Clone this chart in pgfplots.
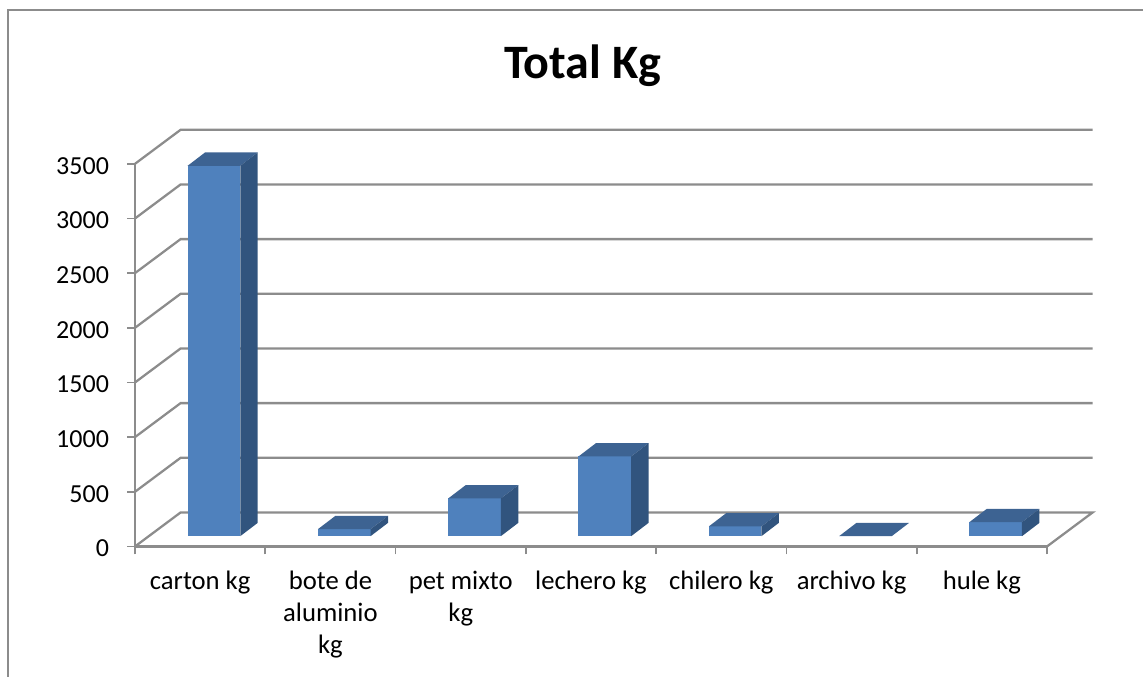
\documentclass[border=0pt]{standalone}
\usepackage{fontspec}
\setmainfont{Carlito}
\usepackage{pgfplots}
\pgfplotsset{compat=1.18}

\definecolor{frontc}{HTML}{4F81BD}
\definecolor{topc}{HTML}{3D6392}
\definecolor{sidec}{HTML}{31547E}
\definecolor{linec}{HTML}{8C8C8C}

\begin{document}
\begin{tikzpicture}
	% 1 reference pixel = 0.75pt
	\useasboundingbox (0,0) rectangle (857.25pt,507.75pt);
	\draw[linec, line width=1.5pt] (6pt,0pt) -- (6pt,500.2pt) -- (857.25pt,500.2pt);
	\begin{axis}[
		at={(101.25pt,97.9pt)}, anchor=south west,
		scale only axis,
		width=684pt, height=287pt,
		xmin=0, xmax=7,
		ymin=0, ymax=3500,
		clip=false,
		axis x line=bottom, axis y line=left,
		axis line style={-, linec, line width=1.7pt},
		tick style={linec, line width=1.3pt},
		tick align=outside,
		major tick length=6pt,
		xtick={0,...,7},
		x tick label as interval,
		xticklabels={carton kg,{bote de\\aluminio\\kg},{pet mixto\\kg},lechero kg,chilero kg,archivo kg,hule kg},
		x tick label style={align=center, font=\fontsize{20}{24}\selectfont, yshift=-9pt},
		ytick={0,500,...,3500},
		y tick label style={font=\fontsize{19.5}{24}\selectfont, xshift=-10pt, yshift=-1.5pt},
		/pgf/number format/assume math mode=true,
		/pgf/number format/1000 sep={},
		title={Total Kg},
		title style={at={(0.491,1.236)}, anchor=center, font=\fontsize{36}{43}\selectfont\bfseries},
		wall/.style={linec, line width=1.7pt, mark=none, forget plot},
		front/.style={fill=frontc, draw=none, mark=none, forget plot},
		topface/.style={fill=topc, draw=none, mark=none, forget plot},
		sideface/.style={fill=sidec, draw=none, mark=none, forget plot},
		]
		% walls and floor
		\addplot[wall] coordinates {(0,0)(0.35,311)(7.35,311)(7,0)};
		\addplot[wall] coordinates {(0,500)(0.35,811)(7.35,811)};
		\addplot[wall] coordinates {(0,1000)(0.35,1311)(7.35,1311)};
		\addplot[wall] coordinates {(0,1500)(0.35,1811)(7.35,1811)};
		\addplot[wall] coordinates {(0,2000)(0.35,2311)(7.35,2311)};
		\addplot[wall] coordinates {(0,2500)(0.35,2811)(7.35,2811)};
		\addplot[wall] coordinates {(0,3000)(0.35,3311)(7.35,3311)};
		\addplot[wall] coordinates {(0,3500)(0.35,3811)(7.35,3811)};

		% carton kg 3388
		\addplot[front] coordinates {(0.404,94)(0.808,94)(0.808,3482)(0.404,3482)};
		\addplot[topface] coordinates {(0.404,3482)(0.808,3482)(0.942,3604)(0.538,3604)};
		\addplot[sideface] coordinates {(0.808,94)(0.942,216)(0.942,3604)(0.808,3482)};
		% bote de aluminio kg 64
		\addplot[front] coordinates {(1.404,94)(1.808,94)(1.808,158)(1.404,158)};
		\addplot[topface] coordinates {(1.404,158)(1.808,158)(1.942,280)(1.538,280)};
		\addplot[sideface] coordinates {(1.808,94)(1.942,216)(1.942,280)(1.808,158)};
		% pet mixto kg 345
		\addplot[front] coordinates {(2.404,94)(2.808,94)(2.808,439)(2.404,439)};
		\addplot[topface] coordinates {(2.404,439)(2.808,439)(2.942,561)(2.538,561)};
		\addplot[sideface] coordinates {(2.808,94)(2.942,216)(2.942,561)(2.808,439)};
		% lechero kg 729
		\addplot[front] coordinates {(3.404,94)(3.808,94)(3.808,823)(3.404,823)};
		\addplot[topface] coordinates {(3.404,823)(3.808,823)(3.942,945)(3.538,945)};
		\addplot[sideface] coordinates {(3.808,94)(3.942,216)(3.942,945)(3.808,823)};
		% chilero kg 89
		\addplot[front] coordinates {(4.404,94)(4.808,94)(4.808,183)(4.404,183)};
		\addplot[topface] coordinates {(4.404,183)(4.808,183)(4.942,305)(4.538,305)};
		\addplot[sideface] coordinates {(4.808,94)(4.942,216)(4.942,305)(4.808,183)};
		% archivo kg 0
		\addplot[topface] coordinates {(5.404,94)(5.808,94)(5.942,216)(5.538,216)};
		% hule kg 128
		\addplot[front] coordinates {(6.404,94)(6.808,94)(6.808,222)(6.404,222)};
		\addplot[topface] coordinates {(6.404,222)(6.808,222)(6.942,344)(6.538,344)};
		\addplot[sideface] coordinates {(6.808,94)(6.942,216)(6.942,344)(6.808,222)};
	\end{axis}
\end{tikzpicture}
\end{document}
